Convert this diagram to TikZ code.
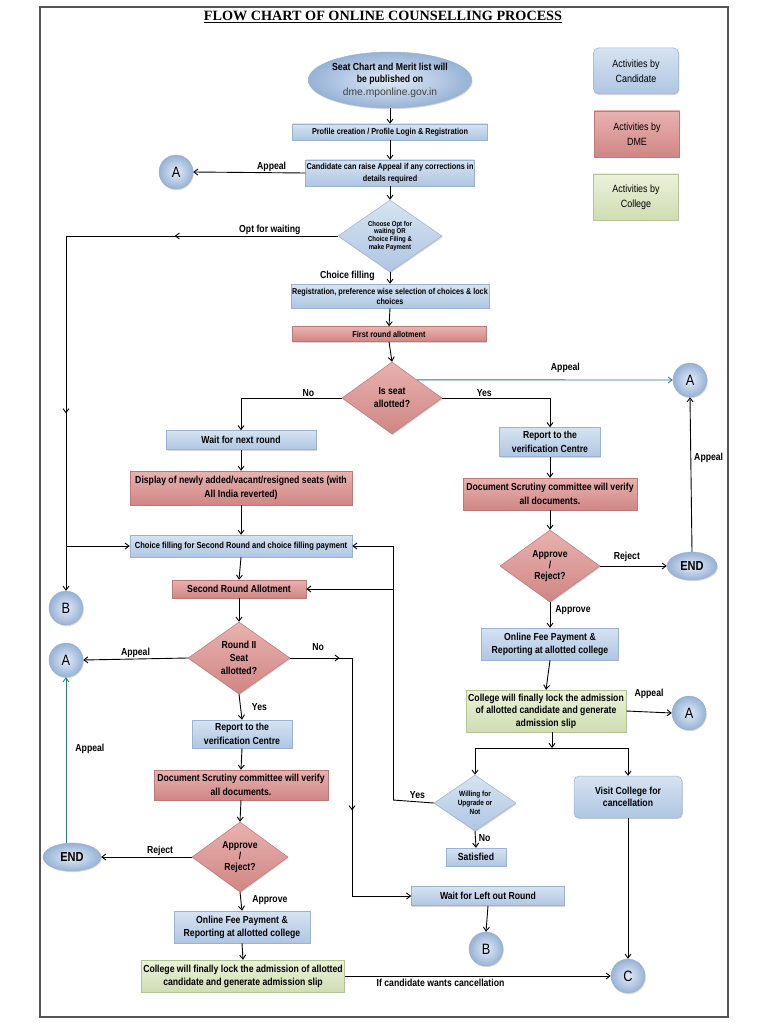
\documentclass[tikz,border=0pt]{standalone}
\usepackage{fontspec}
\setmainfont{Liberation Sans}
\newfontfamily\nar[FakeStretch=0.85]{Liberation Sans}
\newfontfamily\tms{Liberation Serif}
\usetikzlibrary{shapes.geometric,shadows,arrows.meta,decorations.markings,calc}
\definecolor{bT}{HTML}{D6E3F2}
\definecolor{bB}{HTML}{AFC6E2}
\definecolor{bD}{HTML}{9AB3D3}
\definecolor{rT}{HTML}{E8B2B0}
\definecolor{rB}{HTML}{D08684}
\definecolor{rD}{HTML}{BE7876}
\definecolor{gT}{HTML}{EBF2DA}
\definecolor{gB}{HTML}{CFDDB2}
\definecolor{gD}{HTML}{B3C494}
\definecolor{cI}{HTML}{E3ECF7}
\definecolor{cO}{HTML}{96B2D6}
\definecolor{tealc}{HTML}{2F7A8A}
\definecolor{frame}{HTML}{555555}
\newcommand\fsz[2]{\nar\bfseries\fontsize{#1}{#2}\selectfont}
\tikzset{
  sh/.style={drop shadow={opacity=0.3,shadow xshift=0.8pt,shadow yshift=-1.2pt}},
  bbox/.style={rectangle, sh, top color=bT, bottom color=bB, draw=bD, line width=0.5pt, align=center, inner sep=1pt, text=black},
  rbox/.style={rectangle, sh, top color=rT, bottom color=rB, draw=rD, line width=0.5pt, align=center, inner sep=1pt, text=black},
  gbox/.style={rectangle, sh, top color=gT, bottom color=gB, draw=gD, line width=0.5pt, align=center, inner sep=1pt, text=black},
  rdia/.style={diamond, sh, top color=rT, bottom color=rB, draw=rD, line width=0.5pt, align=center, inner sep=0pt, aspect=1.42},
  bdia/.style={diamond, sh, top color=bT, bottom color=bB, draw=bD, line width=0.5pt, align=center, inner sep=0pt, aspect=1.44},
  bell/.style={ellipse, sh, shading=radial, inner color=cI, outer color=cO, draw=bD, line width=0.4pt, align=center, inner sep=0pt},
  cnode/.style={circle, minimum size=34pt, inner sep=0pt, sh, shading=radial, inner color=cI, outer color=cO, draw=bD, line width=0.4pt, font=\nar\fontsize{15}{15}\selectfont},
  arr/.style={-{Straight Barb[length=4pt,width=6pt]}, line width=0.9pt},
  ln/.style={line width=0.9pt},
  tarr/.style={arr, draw=tealc},
  lab/.style={font=\fsz{10.2}{11}, inner sep=1pt},
  marr/.style={postaction={decorate}, decoration={markings, mark=at position #1 with {\arrow{Straight Barb[length=4pt,width=6pt]}}}},
  leg/.style={align=center, font=\nar\fontsize{10.5}{15}\selectfont, minimum width=85pt, minimum height=46pt, inner sep=1pt, text=black!80},
}
\begin{document}
\begin{tikzpicture}[x=1pt,y=-1pt]
\useasboundingbox (0,0) rectangle (768,1024);
\fill[white] (0,0) rectangle (768,1024);
\draw[frame, line width=1.2pt] (40,7) rectangle (728,1017);

\node (title) at (383,17) {\tms\bfseries\fontsize{14.2}{16}\selectfont\underline{FLOW CHART OF ONLINE COUNSELLING PROCESS}};

% legend
\node[leg, bbox, rounded corners=5pt] (l1) at (636,71) {Activities by\\Candidate};
\node[leg, rbox] (l2) at (637,134) {Activities by\\DME};
\node[leg, gbox] (l3) at (636,197) {Activities by\\College};

% top column
\node[bell, minimum width=162pt, minimum height=56pt, font=\fsz{10.2}{12.5}] (n1) at (390,80) {Seat Chart and Merit list will\\be published on\\{\normalfont\fontsize{10.3}{12}\selectfont\color{black!75}dme.mponline.gov.in}};
\node[bbox, minimum width=195pt, minimum height=16pt, font=\fsz{8.6}{10}] (n2) at (390,132) {Profile creation / Profile Login \& Registration};
\node[bbox, minimum width=167pt, minimum height=26pt, font=\fsz{8.6}{12}] (n3) at (390,173) {Candidate can raise Appeal if any corrections in\\details required};
\node[cnode] (a1) at (176,172) {A};
\node[bdia, minimum width=104pt, minimum height=72pt, font=\fsz{7.1}{7.7}] (d1) at (390,236) {Choose Opt for\\waiting OR\\Choice Filing \&\\make Payment};
\node[bbox, minimum width=194pt, minimum height=24pt, font=\fsz{8.5}{10}] (n4) at (390,296) {Registration, preference wise selection of choices \& lock\\choices};
\node[rbox, minimum width=194pt, minimum height=15pt, font=\fsz{8.6}{10}] (n5) at (389,334) {First round allotment};
\node[rdia, minimum width=100pt, minimum height=72pt, font=\fsz{10.2}{13}] (d2) at (392,398) {Is seat\\allotted?};
\node[cnode] (a2) at (690,380) {A};

% left column
\node[bbox, minimum width=150pt, minimum height=19pt, font=\fsz{10.2}{13}] (n6) at (241,440) {Wait for next round};
\node[rbox, minimum width=222pt, minimum height=34pt, font=\fsz{10.2}{14}] (n7) at (241,488) {Display of newly added/vacant/resigned seats (with\\All India reverted)};
\node[bbox, minimum width=222pt, minimum height=22pt, font=\fsz{8.9}{10}] (n8) at (241,546) {Choice filling for Second Round and choice filling payment};
\node[rbox, minimum width=134pt, minimum height=18pt, font=\fsz{10.2}{13}] (n9) at (239,589) {Second Round Allotment};
\node[cnode] (b1) at (66,608) {B};
\node[rdia, minimum width=102pt, minimum height=72pt, font=\fsz{10.2}{13}] (d3) at (239,658) {Round II\\Seat\\allotted?};
\node[cnode] (a3) at (66,660) {A};
\node[bbox, minimum width=100pt, minimum height=28pt, font=\fsz{10.2}{13.5}] (n10) at (242,734) {Report to the\\verification Centre};
\node[rbox, minimum width=174pt, minimum height=30pt, font=\fsz{10.2}{13.5}] (n11) at (241,785) {Document Scrutiny committee will verify\\all documents.};
\node[rdia, minimum width=96pt, minimum height=70pt, font=\fsz{10.2}{11}] (d4) at (240,857) {Approve\\/\\Reject?};
\node[bell, minimum width=58pt, minimum height=28pt, font=\fsz{13}{13}] (e1) at (72,857) {END};
\node[bbox, minimum width=136pt, minimum height=32pt, font=\fsz{10.2}{13}] (n12) at (242,927) {Online Fee Payment \&\\Reporting at allotted college};
\node[gbox, minimum width=203pt, minimum height=32pt, font=\fsz{10.2}{13}] (n13) at (243,976) {College will finally lock the admission of allotted\\candidate and generate admission slip};
\node[cnode] (c1) at (628,976) {C};

% right column
\node[bbox, minimum width=101pt, minimum height=29pt, font=\fsz{10.2}{13.5}] (n14) at (550,442) {Report to the\\verification Centre};
\node[rbox, minimum width=174pt, minimum height=32pt, font=\fsz{10.2}{13.5}] (n15) at (550,494) {Document Scrutiny committee will verify\\all documents.};
\node[rdia, minimum width=100pt, minimum height=72pt, font=\fsz{10.2}{11}] (d5) at (550,566) {Approve\\/\\Reject?};
\node[bell, minimum width=50pt, minimum height=28pt, font=\fsz{13}{13}] (e2) at (692,566) {END};
\node[bbox, minimum width=137pt, minimum height=32pt, font=\fsz{10.2}{13}] (n16) at (550,644) {Online Fee Payment \&\\Reporting at allotted college};
\node[gbox, minimum width=160pt, minimum height=42pt, font=\fsz{10.2}{12.5}] (n17) at (546,711) {College will finally lock the admission\\of allotted candidate and generate\\admission slip};
\node[cnode] (a4) at (689,713) {A};
\node[bdia, minimum width=82pt, minimum height=56pt, font=\fsz{7.6}{9}, aspect=1.46] (d6) at (475,803) {Willing for\\Upgrade or\\Not};
\node[bbox, minimum width=60pt, minimum height=18pt, font=\fsz{10.2}{13}] (n18) at (476,857) {Satisfied};
\node[bbox, rounded corners=5pt, minimum width=108pt, minimum height=42pt, font=\fsz{10.2}{12}] (n19) at (628,797) {Visit College for\\cancellation};
\node[bbox, minimum width=153pt, minimum height=19pt, font=\fsz{10.2}{13}] (n20) at (488,896) {Wait for Left out Round};
\node[cnode] (b2) at (486,949) {B};

% coordinates
\coordinate (w1) at (66,236);
\coordinate (k1) at (352,658);
\coordinate (k2) at (352,896);
\coordinate (y1) at (393,800);
\coordinate (y2) at (393,546);
\coordinate (s1) at (552,748);

% connectors top
\draw[arr] (n1.south) -- (n2.north);
\draw[arr] (n2.south) -- (n3.north);
\draw[arr] (n3.west) -- (a1.east) node[lab, pos=0.3, above] {Appeal};
\draw[arr] (n3.south) -- (d1.north);
\draw[ln, marr=0.6] (d1.west) -- (w1) node[lab, pos=0.25, above] {Opt for waiting};
\draw[arr, marr=0.5] (w1) -- (b1.north);
\draw[arr] (w1 |- n8.west) -- (n8.west);
\draw[arr] (d1.south) -- (n4.north) node[lab, pos=0.3, left=14pt] {Choice filling};
\draw[arr] (n4.south) -- (n5.north);
\draw[arr] (n5.south) -- (d2.north);
\draw[arr] (d2.west) -| (n6.north) node[lab, pos=0.165, above] {No};
\draw[arr] (d2.east) -| (n14.north) node[lab, pos=0.195, above] {Yes};
\draw[tarr] (d2.north east) -- (a2.west) node[lab, pos=0.58, above=6pt] {Appeal};

% left column
\draw[arr] (n6.south) -- (n7.north);
\draw[arr] (n7.south) -- (n8.north);
\draw[arr] (n8.south) -- (n9.north);
\draw[arr] (n9.south) -- (d3.north);
\draw[arr] (d3.west) -- (a3.east) node[lab, pos=0.5, above] {Appeal};
\draw[ln, marr=0.8] (d3.east) -- (k1) node[lab, pos=0.45, above=6pt] {No};
\draw[ln, marr=0.64] (k1) -- (k2);
\draw[arr] (k2) -- (n20.west);
\draw[arr] (d3.south) -- (n10.north) node[lab, pos=0.5, right=10pt] {Yes};
\draw[arr] (n10.south) -- (n11.north);
\draw[arr] (n11.south) -- (d4.north);
\draw[arr] (d4.west) -- (e1.east) node[lab, pos=0.35, above] {Reject};
\draw[tarr] (a3.south |- e1.north) -- (a3.south) node[lab, pos=0.57, right=8pt, text=black] {Appeal};
\draw[arr] (d4.south) -- (n12.north) node[lab, pos=0.4, right=10pt] {Approve};
\draw[arr] (n12.south) -- (n13.north);
\draw[arr] (n13.east) -- (c1.west) node[lab, pos=0.36, below=2pt] {If candidate wants cancellation};

% right column
\draw[arr] (n14.south) -- (n15.north);
\draw[arr] (n15.south) -- (d5.north);
\draw[arr] (d5.east) -- (e2.west) node[lab, pos=0.4, above=3pt] {Reject};
\draw[arr] (e2.north) -- (a2.south) node[lab, pos=0.61, right=2pt] {Appeal};
\draw[arr] (d5.south) -- (n16.north) node[lab, pos=0.3, right=4pt] {Approve};
\draw[arr] (n16.south) -- (n17.north);
\draw[arr] (n17.east) -- (a4.west) node[lab, pos=0.5, above=12pt] {Appeal};
\draw[arr] (n17.south -| s1) -- (s1);
\draw[ln] (d6.north |- s1) -- (n19.north |- s1);
\draw[arr] (d6.north |- s1) -- (d6.north);
\draw[arr] (n19.north |- s1) -- (n19.north);
\draw[ln] (d6.west) -- (y1) node[lab, pos=0.4, above=2pt] {Yes};
\draw[ln] (y1) -- (y2);
\draw[arr] (y2) -- (n8.east);
\draw[arr] (y1 |- n9.east) -- (n9.east);
\draw[arr] (d6.south) -- (n18.north) node[lab, pos=0.4, right=2pt] {No};
\draw[arr] (n19.south) -- (c1.north);
\draw[arr] (n20.south) -- (b2.north);
\end{tikzpicture}
\end{document}
